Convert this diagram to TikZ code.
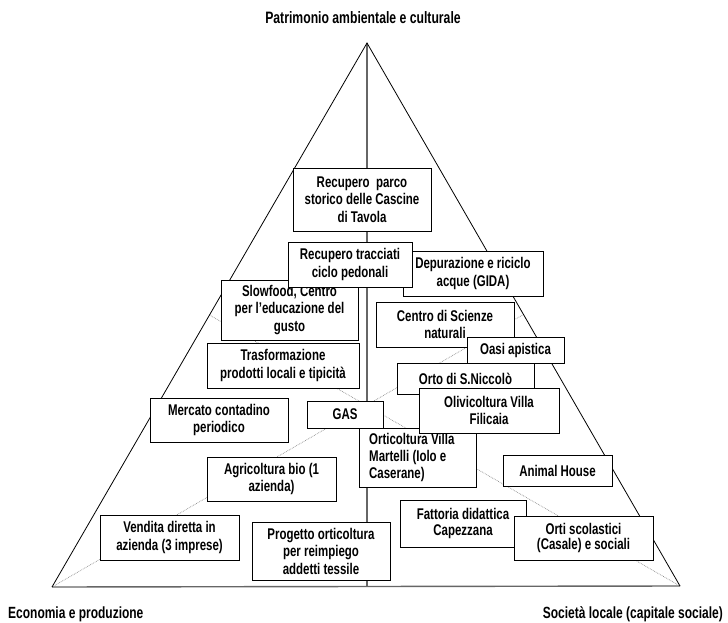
\documentclass[tikz,border=0pt]{standalone}
\usepackage{fontspec}
\setmainfont{Liberation Sans}[FakeStretch=0.74]
\begin{document}
\begin{tikzpicture}[x=1pt,y=-1pt,
  box/.style={draw=black, line width=0.8pt, fill=white, align=center, inner sep=0pt,
    font=\bfseries\fontsize{15.5}{17.5}\selectfont, text=black},
  tightbox/.style={box, font=\bfseries\fontsize{15.5}{15.5}\selectfont},
  plaintext/.style={align=left, inner sep=0pt, font=\bfseries\fontsize{15.5}{17}\selectfont, text=black},
  side/.style={line width=0.8pt, draw=black},
  axisline/.style={line width=1.4pt, draw=black!60},
  median/.style={line width=0.7pt, draw=black!45, densely dotted},
  lab/.style={font=\bfseries\fontsize{16.2}{18}\selectfont, inner sep=0pt, text=black}]
\useasboundingbox (0,0) rectangle (728,623);
% triangle
\coordinate (A) at (367,43);
\coordinate (B) at (52,587);
\coordinate (C) at (680,586);
\coordinate (H) at (367,586.5);
\coordinate (MR) at (523.5,314.5);
\coordinate (ML) at (209.5,315);
\draw[median] (B) -- (MR);
\draw[median] (C) -- (ML);
\draw[axisline] (B) -- (C);
\draw[axisline] (A) -- (H);
\draw[side] (B) -- (A) -- (C);
% labels
\node[lab, font=\bfseries\fontsize{16.5}{18}\selectfont] (top) at (363,18) {Patrimonio ambientale e culturale};
\node[lab, anchor=west] (econ) at (8,614) {Economia e produzione};
\node[lab, anchor=east] (soc) at (723,614) {Società locale (capitale sociale)};
% boxes
\node[box, minimum width=138pt, minimum height=63pt] (parco) at (362,199.5)
  {Recupero\ \ parco\\storico delle Cascine\\di Tavola};
\node[box, minimum width=140pt, minimum height=45pt] (depur) at (473,273.5)
  {Depurazione e riciclo\\acque (GIDA)};
\node[box, minimum width=137pt, minimum height=60pt] (slow) at (289.5,310)
  {Slowfood, Centro\\per l’educazione del\\gusto};
\node[box, minimum width=124pt, minimum height=45pt] (tracc) at (350,264.5)
  {Recupero tracciati\\ciclo pedonali};
\node[box, minimum width=138pt, minimum height=45pt] (centro) at (445,324.5)
  {Centro di Scienze\\naturali};
\node[box, minimum width=97pt, minimum height=26pt] (oasi) at (515.5,350)
  {Oasi apistica};
\node[box, minimum width=152pt, minimum height=45pt] (trasf) at (283,365.5)
  {Trasformazione\\prodotti locali e tipicità};
\node[box, minimum width=137pt, minimum height=31pt] (orto) at (465.5,378.5)
  {Orto di S.Niccolò};
\node[box, minimum width=138pt, minimum height=44pt] (merc) at (219,420)
  {Mercato contadino\\periodico};
\node[box, minimum width=76pt, minimum height=27pt] (gas) at (345,414.5)
  {GAS};
\node[box, minimum width=117pt, minimum height=59pt] (ortic) at (417.5,457.5) {};
\node[plaintext, anchor=west] (ortictext) at (369,457.5)
  {Orticoltura Villa\\Martelli (Iolo e\\Caserane)};
\node[box, minimum width=140pt, minimum height=45pt] (olivi) at (489,410.5)
  {Olivicoltura Villa\\Filicaia};
\node[box, minimum width=129pt, minimum height=44pt] (agri) at (271.5,479)
  {Agricoltura bio (1\\azienda)};
\node[box, minimum width=109pt, minimum height=31pt] (animal) at (557.5,470.5)
  {Animal House};
\node[box, minimum width=139pt, minimum height=45pt] (vend) at (169.5,537.5)
  {Vendita diretta in\\azienda (3 imprese)};
\node[tightbox, minimum width=126pt, minimum height=47pt] (fatt) at (463,523.5)
  {Fattoria didattica\\Capezzana};
\node[tightbox, minimum width=139pt, minimum height=44pt] (orti) at (583.5,538)
  {Orti scolastici\\(Casale) e sociali};
\node[box, minimum width=138pt, minimum height=58pt] (prog) at (321,551)
  {Progetto orticoltura\\per reimpiego\\addetti tessile};
\end{tikzpicture}
\end{document}
